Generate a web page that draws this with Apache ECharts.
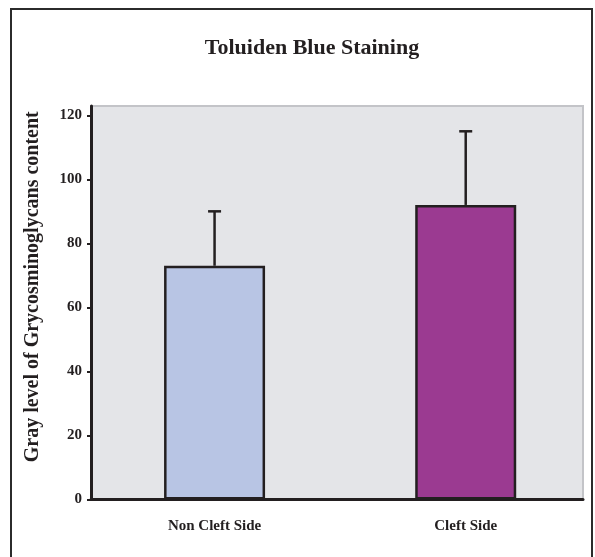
<!DOCTYPE html>
<html>
<head>
<meta charset="utf-8">
<script src="https://cdn.jsdelivr.net/npm/echarts@6/dist/echarts.min.js"></script>
<style>
  html, body { margin: 0; padding: 0; background: #fff; }
  #chart { width: 595px; height: 557px; }
</style>
</head>
<body>
<div id="chart"></div>
<script>
const categories = ['Non Cleft Side', 'Cleft Side'];
const means = [73, 92];
const errorTops = [90, 115];
const barColors = ['#b8c5e4', '#9b3a91'];
const yTicks = [0, 20, 40, 60, 80, 100, 120];

const serif = '"Liberation Serif", "Times New Roman", serif';
const chart = echarts.init(document.getElementById('chart'), null, { renderer: 'canvas' });

chart.setOption({
  animation: false,
  backgroundColor: '#ffffff',
  title: {
    text: 'Toluiden Blue Staining',
    left: 307,
    textAlign: 'center',
    top: 32,
    textStyle: { fontFamily: serif, fontWeight: 'bold', fontSize: 22, color: '#231f20' }
  },
  graphic: [{
    type: 'rect',
    shape: { x: 11, y: 9, width: 581, height: 570 },
    style: { fill: 'none', stroke: '#2b2b2b', lineWidth: 2 },
    silent: true
  }],
  grid: {
    left: 91, top: 106, width: 492, height: 393.5,
    show: true,
    backgroundColor: '#e4e5e8',
    borderColor: '#c3c4c8',
    borderWidth: 2
  },
  xAxis: {
    type: 'value',
    min: -0.492,
    max: 1.467,
    splitLine: { show: false },
    axisLine: { onZero: false, lineStyle: { color: '#231f20', width: 3 } },
    axisTick: { show: false },
    axisLabel: {
      customValues: [0, 1],
      formatter: function (v) { return categories[Math.round(v)] || ''; },
      margin: 19,
      fontFamily: serif, fontWeight: 'bold', fontSize: 15, color: '#231f20'
    }
  },
  yAxis: {
    type: 'value',
    min: 0,
    max: 122.9,
    interval: 20,
    name: 'Gray level of Grycosminoglycans content',
    nameLocation: 'middle',
    nameGap: 48,
    nameTextStyle: {
      fontFamily: serif, fontWeight: 'bold', fontSize: 20, color: '#231f20',
      padding: [0, 0, 0, 32]
    },
    splitLine: { show: false },
    axisLine: { show: true, onZero: false, lineStyle: { color: '#231f20', width: 3 } },
    axisTick: { show: true, length: 4, customValues: yTicks, lineStyle: { color: '#231f20', width: 2 } },
    axisLabel: {
      customValues: yTicks,
      margin: 9,
      fontFamily: serif, fontWeight: 'bold', fontSize: 15, color: '#231f20'
    }
  },
  series: [
    {
      type: 'bar',
      barWidth: 101,
      data: means.map((v, i) => ({
        value: [i, v],
        itemStyle: { color: barColors[i], borderColor: '#231f20', borderWidth: 2.5 }
      })),
      z: 2
    },
    {
      type: 'custom',
      z: 1,
      data: means.map((v, i) => [i, v, errorTops[i]]),
      renderItem: function (params, api) {
        const base = api.coord([api.value(0), api.value(1)]);
        const top = api.coord([api.value(0), api.value(2)]);
        const half = 6.5;
        return {
          type: 'group',
          children: [
            { type: 'line', shape: { x1: base[0], y1: base[1], x2: top[0], y2: top[1] },
              style: { stroke: '#231f20', lineWidth: 2.5 } },
            { type: 'line', shape: { x1: top[0] - half, y1: top[1], x2: top[0] + half, y2: top[1] },
              style: { stroke: '#231f20', lineWidth: 2.5 } }
          ]
        };
      }
    }
  ]
});
</script>
</body>
</html>
